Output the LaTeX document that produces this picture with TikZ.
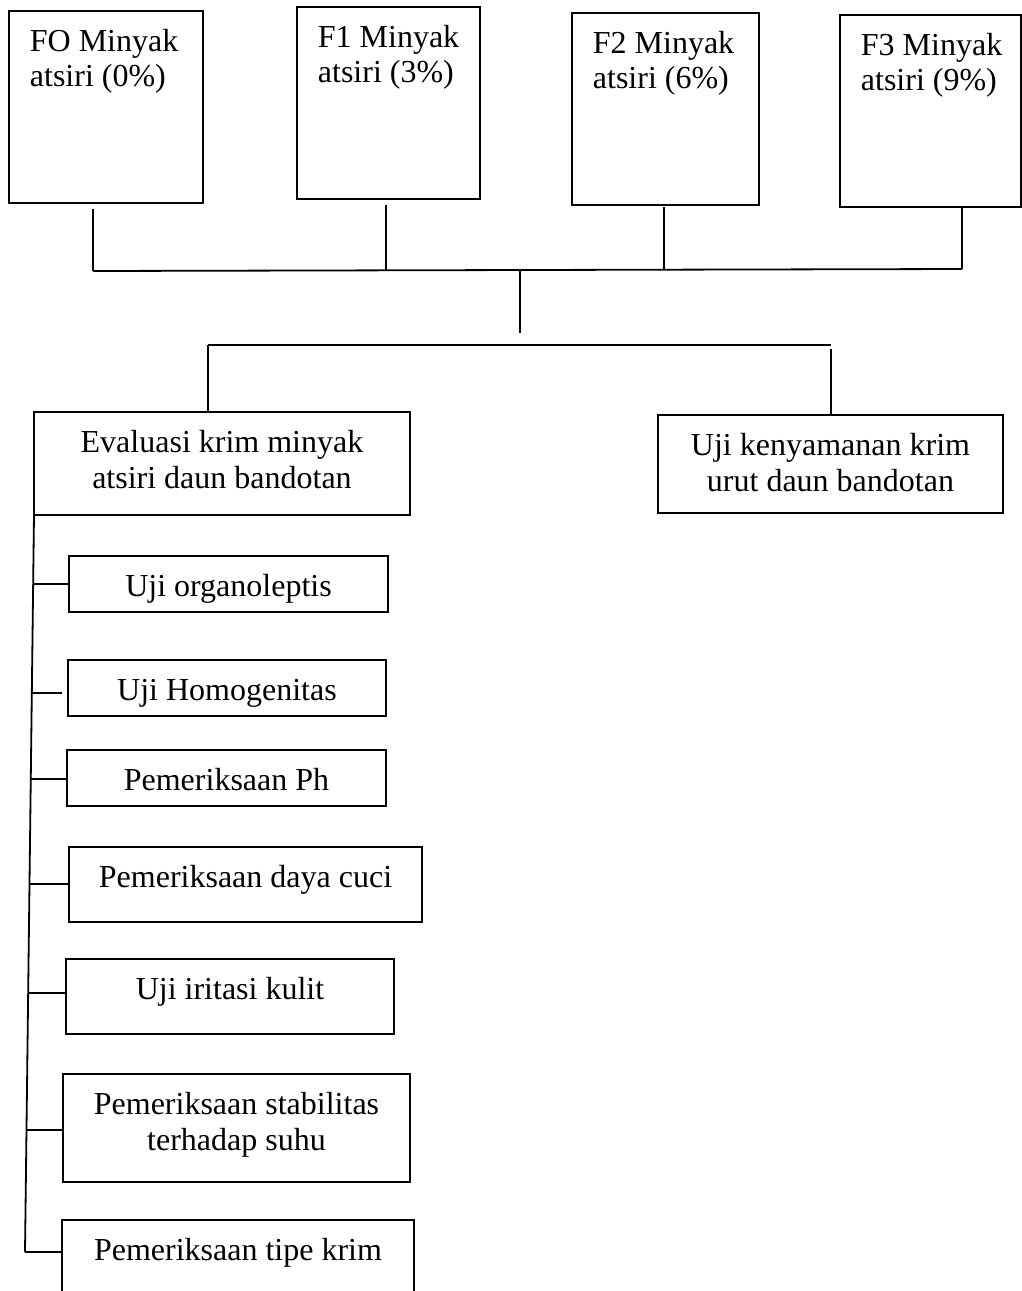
\documentclass[tikz,border=0pt]{standalone}
\usepackage{fontspec}
\setmainfont{Liberation Serif}
\usetikzlibrary{calc}

\tikzset{
  kotak/.style={draw, anchor=north west, inner sep=0pt, outer sep=0pt},
  isikiri/.style={anchor=base west, xshift=10pt, yshift=-37.5pt, align=left, inner sep=0pt, font=\fontsize{16}{17.5}\selectfont},
  isitengah/.style={anchor=base, yshift=-20pt, align=center, inner sep=0pt, font=\fontsize{16}{18}\selectfont},
  duabaris/.style={yshift=-18pt},
}

\begin{document}
\begin{tikzpicture}[x=0.5pt, y=-0.5pt, line width=0.9pt]
              \clip (0,0) rectangle (1022,1291);
              \node[kotak, minimum width=97pt, minimum height=96pt, label={[isikiri]north west:FO Minyak\\atsiri (0\%)}] (f0) at (9,11) {};
              \node[kotak, minimum width=91.5pt, minimum height=96pt, label={[isikiri]north west:F1 Minyak\\atsiri (3\%)}] (f1) at (297,7) {};
              \node[kotak, minimum width=93.5pt, minimum height=96pt, label={[isikiri]north west:F2 Minyak\\atsiri (6\%)}] (f2) at (572,13) {};
              \node[kotak, minimum width=90.5pt, minimum height=96pt, label={[isikiri]north west:F3 Minyak\\atsiri (9\%)}] (f3) at (840,15) {};
              \coordinate (a0) at (93,271);
              \coordinate (a1) at (386,270);
              \coordinate (a2) at (664,270);
              \coordinate (a3) at (962,269);
              \draw ($(a0 |- f0.south)+(0,6)$) -- (a0);
              \draw ($(a1 |- f1.south)+(0,6)$) -- (a1);
              \draw ($(a2 |- f2.south)+(0,2)$) -- (a2);
              \draw ($(a3 |- f3.south)+(0,1)$) -- (a3);
              \draw (a0) -- (a3);
              \coordinate (pusat) at (520,270);
              \coordinate (pusatb) at (520,333);
              \draw (pusat) -- (pusatb);
              \node[kotak, minimum width=188pt, minimum height=51.5pt, label={[isitengah, duabaris]north:Evaluasi krim minyak\\atsiri daun bandotan}] (eval) at (34,412) {};
              \node[kotak, minimum width=172.5pt, minimum height=49pt, label={[isitengah, duabaris]north:Uji kenyamanan krim\\urut daun bandotan}] (uji) at (658,415) {};
              \coordinate (c0) at (208,345);
              \coordinate (c1) at (831,345);
              \draw (c0) -- (c1);
              \draw (c0) -- (c0 |- eval.north);
              \draw ($(c1)+(0,4)$) -- (c1 |- uji.north);
              \node[kotak, minimum width=159.5pt, minimum height=28pt, label={[isitengah]north:Uji organoleptis}] (org) at (69,556) {};
              \node[kotak, minimum width=159pt, minimum height=28pt, label={[isitengah]north:Uji Homogenitas}] (homo) at (68,660) {};
              \node[kotak, minimum width=159.5pt, minimum height=28pt, label={[isitengah]north:Pemeriksaan Ph}] (ph) at (67,750) {};
              \node[kotak, minimum width=176.5pt, minimum height=37.5pt, label={[isitengah]north:Pemeriksaan daya cuci}] (cuci) at (69,847) {};
              \node[kotak, minimum width=164pt, minimum height=37.5pt, label={[isitengah]north:Uji iritasi kulit}] (iritasi) at (66,959) {};
              \node[kotak, minimum width=173.5pt, minimum height=54pt, label={[isitengah, duabaris]north:Pemeriksaan stabilitas\\terhadap suhu}] (stabil) at (63,1074) {};
              \node[kotak, minimum width=176pt, minimum height=50pt, label={[isitengah]north:Pemeriksaan tipe krim}] (tipe) at (62,1220) {};
              \coordinate (ujung) at (25,1252);
              \draw (eval.south west) -- (ujung);
              \coordinate (b1) at ($(eval.south west)!0.0936!(ujung)$);
              \coordinate (b2) at ($(eval.south west)!0.2415!(ujung)$);
              \coordinate (b3) at ($(eval.south west)!0.3582!(ujung)$);
              \coordinate (b4) at ($(eval.south west)!0.5007!(ujung)$);
              \coordinate (b5) at ($(eval.south west)!0.6486!(ujung)$);
              \coordinate (b6) at ($(eval.south west)!0.8345!(ujung)$);
              \draw (b1) -- (b1 -| org.west);
              \draw (b2) -- ($(b2 -| homo.west)+(-6,0)$);
              \draw (b3) -- (b3 -| ph.west);
              \draw (b4) -- (b4 -| cuci.west);
              \draw (b5) -- (b5 -| iritasi.west);
              \draw (b6) -- (b6 -| stabil.west);
              \draw (ujung) -- (ujung -| tipe.west);
        \end{tikzpicture}
\end{document}
